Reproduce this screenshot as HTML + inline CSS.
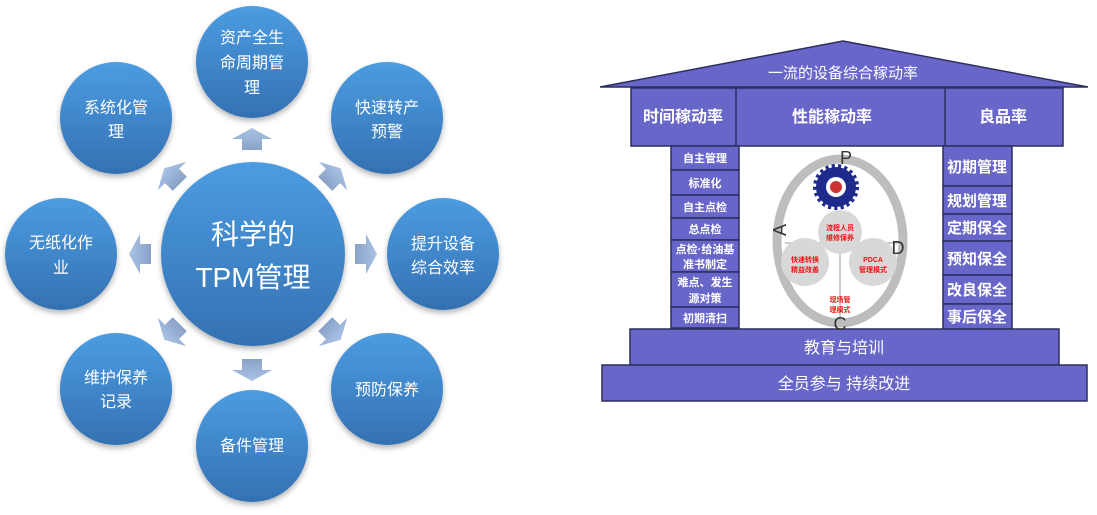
<!DOCTYPE html>
<html><head><meta charset="utf-8"><style>
html,body{margin:0;padding:0;background:#fff;width:1097px;height:515px;overflow:hidden}
svg{display:block}
text{font-family:"Liberation Sans","Noto Sans CJK SC",sans-serif}
</style></head><body>
<svg width="1097" height="515" viewBox="0 0 1097 515" xmlns="http://www.w3.org/2000/svg">
<defs>
<linearGradient id="cg" x1="0" y1="0" x2="0" y2="1"><stop offset="0" stop-color="#4c9ce2"/><stop offset="1" stop-color="#3471b2"/></linearGradient>
<linearGradient id="ag" x1="0" y1="0" x2="0" y2="1"><stop offset="0" stop-color="#a9c3e6"/><stop offset="1" stop-color="#8aa2c6"/></linearGradient>
<filter id="sh" x="-20%" y="-20%" width="140%" height="150%"><feDropShadow dx="0" dy="3" stdDeviation="3" flood-color="#000" flood-opacity="0.3"/></filter>
<polygon id="ar" points="0,-11 20,0 10,0 10,11 -10,11 -10,0 -20,0" fill="url(#ag)"/>
</defs>
<g filter="url(#sh)" fill="url(#cg)">
<circle cx="253" cy="254" r="92"/>
<circle cx="252" cy="62" r="56"/>
<circle cx="387" cy="118" r="56"/>
<circle cx="443" cy="254" r="56"/>
<circle cx="387" cy="389" r="56"/>
<circle cx="252" cy="446" r="56"/>
<circle cx="116" cy="389" r="56"/>
<circle cx="61" cy="254" r="56"/>
<circle cx="116" cy="118" r="56"/>
</g>
<use href="#ar" transform="translate(252,139)"/>
<use href="#ar" transform="translate(252,370) rotate(180)"/>
<use href="#ar" transform="translate(140,254) rotate(-90)"/>
<use href="#ar" transform="translate(366,254) rotate(90)"/>
<use href="#ar" transform="translate(172,176) rotate(-45)"/>
<use href="#ar" transform="translate(333,176) rotate(45)"/>
<use href="#ar" transform="translate(172,332) rotate(-135)"/>
<use href="#ar" transform="translate(333,332) rotate(135)"/>
<g fill="#fff" text-anchor="middle" font-size="16">
<text x="252" y="43">资产全生</text><text x="252" y="68">命周期管</text><text x="252" y="93">理</text>
<text x="387" y="113">快速转产</text><text x="387" y="137">预警</text>
<text x="443" y="249">提升设备</text><text x="443" y="273">综合效率</text>
<text x="387" y="395">预防保养</text>
<text x="252" y="451">备件管理</text>
<text x="116" y="383">维护保养</text><text x="116" y="407">记录</text>
<text x="61" y="248">无纸化作</text><text x="61" y="273">业</text>
<text x="116" y="113">系统化管</text><text x="116" y="137">理</text>
<text x="253" y="244" font-size="28">科学的</text>
<text x="253" y="287" font-size="28">TPM管理</text>
</g>
<!-- house -->
<g stroke="#2e2e5e" stroke-width="1.5" fill="#6866c9">
<polygon points="843,41 600,87 1088,87"/>
<rect x="631" y="88" width="432" height="58"/>
<line x1="736" y1="88" x2="736" y2="146"/>
<line x1="945" y1="88" x2="945" y2="146"/>
<rect x="671" y="146" width="68" height="24"/>
<rect x="671" y="170" width="68" height="25"/>
<rect x="671" y="195" width="68" height="23"/>
<rect x="671" y="218" width="68" height="22"/>
<rect x="671" y="240" width="68" height="32"/>
<rect x="671" y="272" width="68" height="35"/>
<rect x="671" y="307" width="68" height="21"/>
<rect x="943" y="146" width="69" height="40"/>
<rect x="943" y="186" width="69" height="28"/>
<rect x="943" y="214" width="69" height="27"/>
<rect x="943" y="241" width="69" height="34"/>
<rect x="943" y="275" width="69" height="29"/>
<rect x="943" y="304" width="69" height="25"/>
<rect x="630" y="329" width="429" height="36"/>
<rect x="602" y="365" width="485" height="36"/>
</g>
<!-- center graphic -->
<ellipse cx="840" cy="241" rx="63" ry="82" fill="none" stroke="#bdbdbd" stroke-width="9"/>
<line x1="785" y1="243" x2="900" y2="243" stroke="#999" stroke-width="1"/>
<line x1="840" y1="243" x2="840" y2="320" stroke="#999" stroke-width="1"/>
<circle cx="836" cy="187" r="20" fill="#1e2a8c" stroke="#1e2a8c" stroke-width="6" stroke-dasharray="3 3"/>
<circle cx="836" cy="187" r="10" fill="#fff"/>
<circle cx="836" cy="187" r="6" fill="#c33"/>
<circle cx="840" cy="232" r="22" fill="#d8d8d8"/>
<circle cx="805" cy="262" r="24" fill="#d8d8d8"/>
<circle cx="873" cy="262" r="24" fill="#d8d8d8"/>
<g fill="#e11" font-size="7" text-anchor="middle" font-weight="bold">
<text x="840" y="230">流程人员</text><text x="840" y="240">维修保养</text>
<text x="805" y="262">快速转换</text><text x="805" y="272">精益改善</text>
<text x="873" y="262">PDCA</text><text x="873" y="272">管理模式</text>
<text x="840" y="302">现场管</text><text x="840" y="312">理模式</text>
</g>
<g fill="#333" font-size="18" text-anchor="middle">
<text x="846" y="164">P</text><text x="898" y="254">D</text><text x="840" y="330">C</text>
<text x="786" y="230" transform="rotate(-90 786 230)">A</text>
</g>
<g fill="#fff" text-anchor="middle" font-weight="bold">
<text x="843" y="78" font-size="15" font-weight="normal">一流的设备综合稼动率</text>
<text x="683" y="122" font-size="16">时间稼动率</text>
<text x="832" y="122" font-size="16">性能稼动率</text>
<text x="1003" y="122" font-size="16">良品率</text>
<g font-size="11">
<text x="705" y="162">自主管理</text>
<text x="705" y="187">标准化</text>
<text x="705" y="211">自主点检</text>
<text x="705" y="233">总点检</text>
<text x="705" y="253">点检·给油基</text><text x="705" y="268">准书制定</text>
<text x="705" y="286">难点、发生</text><text x="705" y="302">源对策</text>
<text x="705" y="322">初期清扫</text>
</g>
<g font-size="15">
<text x="977" y="172">初期管理</text>
<text x="977" y="206">规划管理</text>
<text x="977" y="233">定期保全</text>
<text x="977" y="264">预知保全</text>
<text x="977" y="295">改良保全</text>
<text x="977" y="322">事后保全</text>
</g>
<text x="844" y="353" font-size="16" font-weight="normal">教育与培训</text>
<text x="844" y="389" font-size="16" font-weight="normal">全员参与 持续改进</text>
</g>
</svg>
</body></html>
